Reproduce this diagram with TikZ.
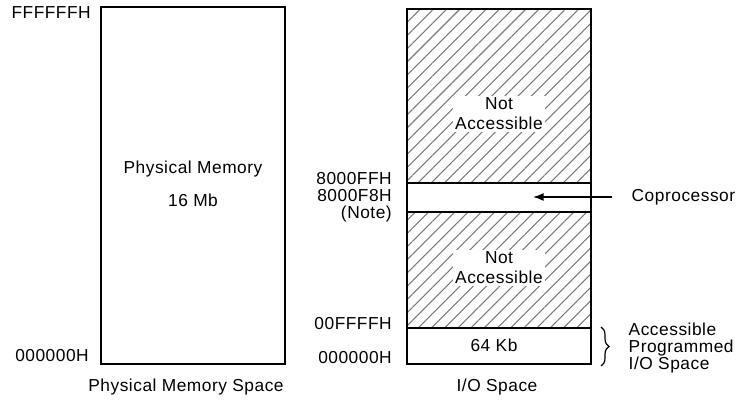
\documentclass[tikz,border=0pt]{standalone}
\usepackage{fontspec}
\setmainfont[LetterSpace=3]{Liberation Sans}
\usetikzlibrary{arrows.meta,patterns.meta,decorations.pathreplacing}
\definecolor{hatch}{HTML}{7A7A7A}

\begin{document}
\begin{tikzpicture}[x=0.75pt,y=-0.75pt,font=\fontsize{13}{13}\selectfont,
    box/.style={line width=1.3pt},
    hatched/.style={pattern={Lines[angle=45,distance=7pt,line width=0.8pt]},pattern color=hatch},
    addr/.style={anchor=east,align=right,inner sep=0pt},
    blank/.style={fill=white,inner sep=1.5pt,align=center}]
  \useasboundingbox (0,0) rectangle (741,403);
  % physical memory space
  \draw[box] (101,7) rectangle (285,364);
  \node (phys) at (193,184) [align=center] {Physical Memory\\[12pt]16 Mb};
  \node[addr] (ptop) at (91,13) {FFFFFFH};
  \node[addr] (pbot) at (89,356) {000000H};
  \node (physcap) at (186,387) {Physical Memory Space};
  % i/o space, hatched parts first
  \fill[hatched] (407,9) rectangle (591,183);
  \fill[hatched] (407,212) rectangle (591,328);
  \draw[box] (407,9) rectangle (591,364);
  \draw[box] (407,183) -- (591,183);
  \draw[box] (407,212) -- (591,212);
  \draw[box] (407,328) -- (591,328);
  \node[blank] (na1) at (499,114) {Not\\[2pt]Accessible};
  \node[blank] (na2) at (499,268) {Not\\[2pt]Accessible};
  \node (kb) at (494,345) {64 Kb};
  \foreach \n/\y/\t in {a1/179/8000FFH,a2/196/8000F8H,a3/214/{(Note)},a4/324/00FFFFH,a5/358/000000H}
     \node[addr] (\n) at (392,\y) {\t};
  \node (iocap) at (497,387) {I/O Space};
  % coprocessor pointer
  \node[anchor=west] (copro) at (627,197) {Coprocessor};
  \coordinate (coptip) at (533,197);
  \draw[line width=1.1pt,-{Latex[length=8pt,width=6pt]},shorten <=11pt] (copro.west) -- (coptip);
  % brace for the programmed range
  \draw[line width=0.9pt,decorate,decoration={brace,amplitude=6pt}] (601,327) -- (601,366);
  \node[anchor=west,align=left] (acc) at (624,348) {Accessible\\Programmed\\I/O Space};
\end{tikzpicture}
\end{document}
